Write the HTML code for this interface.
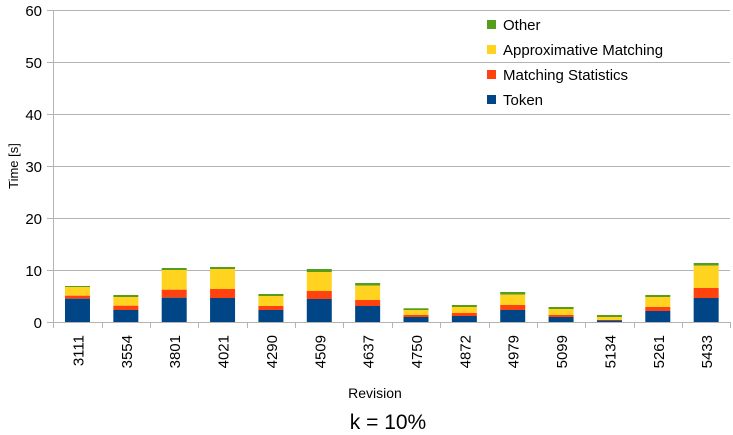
<!DOCTYPE html>
<html><head><style>
body{margin:0;background:#fff}
svg{display:block;font-family:"Liberation Sans",sans-serif}
</style></head><body>
<svg width="733" height="435" viewBox="0 0 733 435" xmlns="http://www.w3.org/2000/svg">
<g stroke="#b3b3b3" stroke-width="1">
<line x1="53" y1="10.5" x2="730" y2="10.5"/>
<line x1="53" y1="62.5" x2="730" y2="62.5"/>
<line x1="53" y1="114.5" x2="730" y2="114.5"/>
<line x1="53" y1="166.5" x2="730" y2="166.5"/>
<line x1="53" y1="218.5" x2="730" y2="218.5"/>
<line x1="53" y1="270.5" x2="730" y2="270.5"/>
<line x1="47" y1="322.5" x2="730" y2="322.5"/>
<line x1="53.5" y1="10" x2="53.5" y2="328"/>
<line x1="47" y1="10.5" x2="53" y2="10.5"/><line x1="47" y1="62.5" x2="53" y2="62.5"/><line x1="47" y1="114.5" x2="53" y2="114.5"/><line x1="47" y1="166.5" x2="53" y2="166.5"/><line x1="47" y1="218.5" x2="53" y2="218.5"/><line x1="47" y1="270.5" x2="53" y2="270.5"/>
</g>
<g font-size="15" fill="#000" text-anchor="end">
<text x="42" y="16">60</text><text x="42" y="68">50</text><text x="42" y="120">40</text><text x="42" y="172">30</text><text x="42" y="224">20</text><text x="42" y="276">10</text><text x="42" y="328">0</text>
</g>
<g id="bars"></g>
<g id="ticks" stroke="#b3b3b3"></g>
<g id="labels" font-size="15" text-anchor="end"></g>
<text x="18" y="166" font-size="13" text-anchor="middle" transform="rotate(-90 18 166)">Time [s]</text>
<text x="375" y="398" font-size="14" text-anchor="middle">Revision</text>
<text x="388" y="429" font-size="21" text-anchor="middle">k = 10%</text>
<g font-size="15">
<rect x="487" y="20" width="9" height="9" fill="#579d1c"/><text x="503" y="30">Other</text>
<rect x="487" y="45" width="9" height="9" fill="#ffd320"/><text x="503" y="55">Approximative Matching</text>
<rect x="487" y="70" width="9" height="9" fill="#ff420e"/><text x="503" y="80">Matching Statistics</text>
<rect x="487" y="95" width="9" height="9" fill="#004586"/><text x="503" y="105">Token</text>
</g>
<script>
var d=[["3111",286,287,295.7,298.7],["3554",295,297,305.7,310],["3801",268,270,289.7,297.7],["4021",267,269,289,298],["4290",294,296,306,310],["4509",269,272,291,299],["4637",283,285.7,300,306],["4750",308.3,310,315,317],["4872",305,307,313,316],["4979",292,294.7,305,310],["5099",307,309,315,317],["5134",315,317,320,320.5],["5261",295,297,307,311],["5433",263,265.7,288,298]];
var ns="http://www.w3.org/2000/svg",b=document.getElementById("bars"),t=document.getElementById("ticks"),l=document.getElementById("labels");
var w=48.36,x0=53.3,cols=["#579d1c","#ffd320","#ff420e","#004586"];
function r(x,y,h,c){var e=document.createElementNS(ns,"rect");e.setAttribute("x",x);e.setAttribute("y",y);e.setAttribute("width",25);e.setAttribute("height",Math.max(h,0));e.setAttribute("fill",c);b.appendChild(e);}
d.forEach(function(v,i){var cx=x0+w*(i+0.5),x=cx-12.5;
var ys=[v[1],v[2],v[3],v[4],322];
for(var k=0;k<4;k++)r(x,ys[k],ys[k+1]-ys[k],cols[k]);
var ln=document.createElementNS(ns,"line");var tx=Math.round(x0+w*(i+1))+0.5;ln.setAttribute("x1",tx);ln.setAttribute("x2",tx);ln.setAttribute("y1",322);ln.setAttribute("y2",328);t.appendChild(ln);
var tt=document.createElementNS(ns,"text");tt.setAttribute("transform","translate("+(cx+6)+",335) rotate(-90)");tt.textContent=v[0];l.appendChild(tt);});
</script>
</svg>
</body></html>
